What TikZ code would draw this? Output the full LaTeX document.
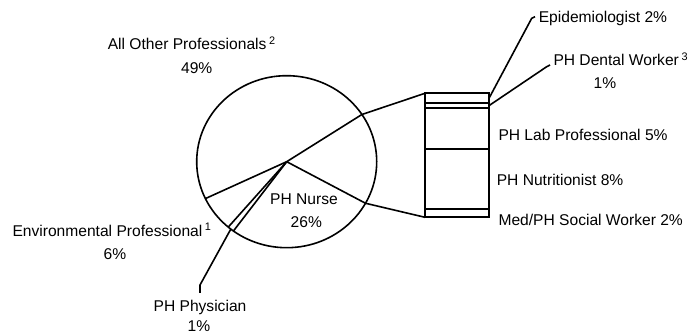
\documentclass[tikz,border=0pt]{standalone}
\usepackage{fontspec}
\setmainfont{Liberation Sans}
\usetikzlibrary{positioning}

\begin{document}
\begin{tikzpicture}[
    x=0.75pt, y=0.75pt,
    line width=1.2pt,
    txt/.style={
        inner sep=0pt,
        font=\fontsize{11.7}{14}\selectfont,
    },
    barseg/.style={
        draw,
        minimum width=48pt,
        inner sep=0pt,
        outer sep=0pt,
    },
]
\useasboundingbox (0,0) rectangle (695,335);

% Pie: centre, outline and slice borders
\coordinate (c) at (286.7,173.3);
\draw (c) ellipse [x radius=67.5pt, y radius=64.5pt];
\path (c) ++(33.3:90 and 86) coordinate (pU);
\path (c) ++(-28.9:90 and 86) coordinate (pL);
\path (c) ++(205.4:90 and 86) coordinate (pE);
\path (c) ++(-130.5:90 and 86) coordinate (pP1);
\path (c) ++(-126.3:90 and 86) coordinate (pP2);
\path (c) ++(-128.4:90 and 86) coordinate (pPm);
\draw (c) -- (pU);
\draw (c) -- (pL);
\draw (c) -- (pE);
\draw (c) -- (pP1);
\draw (c) -- (pP2);

% Bar of the pie-of-pie
\node[barseg, minimum height=7.5pt] (epi) at (457,236.7) {};
\node[barseg, minimum height=3.5pt, below=0pt of epi] (dent) {};
\node[barseg, minimum height=30.75pt, below=0pt of dent] (lab) {};
\node[barseg, minimum height=45pt, below=0pt of lab] (nutr) {};
\node[barseg, minimum height=6.25pt, below=0pt of nutr] (soc) {};
\draw (pU) -- (epi.north west);
\draw (pL) -- (soc.south west);

% Labels, pie side
\node[txt, anchor=west] (allot) at (107,291.7) {All Other Professionals\,\textsuperscript{2}};
\node[txt] (allotpct) at (196.7,266.7) {49\%};
\node[txt, anchor=west] (env) at (11.7,105) {Environmental Professional\,\textsuperscript{1}};
\node[txt] (envpct) at (115,81) {6\%};
\node[txt] (nurse) at (304,135.7) {PH Nurse};
\node[txt] (nursepct) at (306.3,112.7) {26\%};
\node[txt] (phys) at (200,28) {PH Physician};
\node[txt] (physpct) at (199,9) {1\%};

% Labels, bar side
\node[txt, anchor=west] (epilbl) at (538,317) {Epidemiologist 2\%};
\node[txt, anchor=west] (dentlbl) at (552.7,275.7) {PH Dental Worker\,\textsuperscript{3}};
\node[txt] (dentpct) at (605,252) {1\%};
\node[txt, anchor=west] (lablbl) at (497.7,200) {PH Lab Professional 5\%};
\node[txt, anchor=west] (nutrlbl) at (496,155) {PH Nutritionist 8\%};
\node[txt, anchor=west] (soclbl) at (497.7,115) {Med/PH Social Worker 2\%};

% Leader lines
\coordinate (physbend) at (200,50);
\coordinate (physend) at (200,42);
\draw (pPm) -- (physbend) -- (physend);
\coordinate (epibend) at (531.7,316.7);
\coordinate (epitip) at (535,318.3);
\draw (epi.east) -- (epibend) -- (epitip);
\coordinate (dentbend) at (546.7,268.3);
\coordinate (denttip) at (550,270);
\draw (dent.east) -- (dentbend) -- (denttip);

\end{tikzpicture}
\end{document}
